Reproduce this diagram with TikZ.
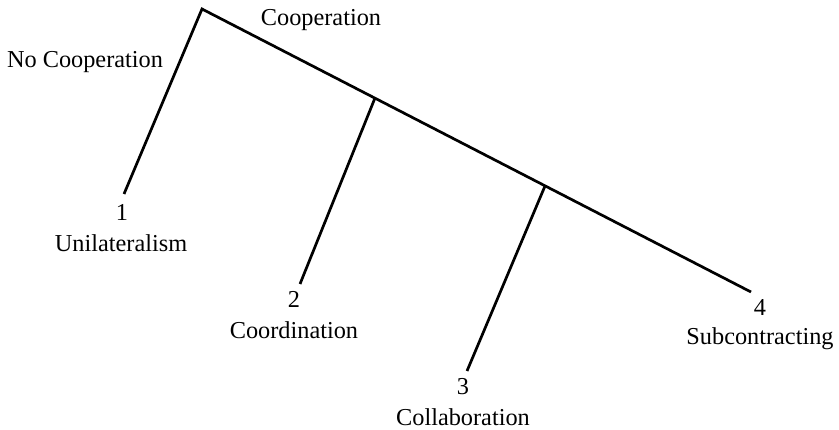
\documentclass[tikz,border=0pt]{standalone}
\usepackage{fontspec}
\setmainfont{Liberation Serif}
\begin{document}
\begin{tikzpicture}[x=1pt,y=-1pt,
  branch/.style={line width=2.7pt,line cap=butt},
  lbl/.style={font=\fontsize{24.3}{28}\selectfont,inner sep=0pt,anchor=center}]
\useasboundingbox (0,0) rectangle (839,430);
\coordinate (top) at (202,9);
\coordinate (e1) at (124,194);
\coordinate (e4) at (751,292);
\coordinate (j2) at (375,98);
\coordinate (j3) at (545,186);
\coordinate (e2) at (300,284);
\coordinate (e3) at (467,371);
\draw[branch] (e1) -- (top) -- (e4);
\draw[branch] (j2) -- (e2);
\draw[branch] (j3) -- (e3);
\node[lbl] (coop) at (321,20) {Cooperation};
\node[lbl] (nocoop) at (85,62) {No Cooperation};
\node[lbl] (n1) at (122,212) {1};
\node[lbl] (t1) at (121,243) {Unilateralism};
\node[lbl] (n2) at (294,299) {2};
\node[lbl] (t2) at (294,330) {Coordination};
\node[lbl] (n3) at (463,387) {3};
\node[lbl] (t3) at (463,417) {Collaboration};
\node[lbl] (n4) at (760,308) {4};
\node[lbl] (t4) at (760,339) {Subcontracting};
\end{tikzpicture}
\end{document}
